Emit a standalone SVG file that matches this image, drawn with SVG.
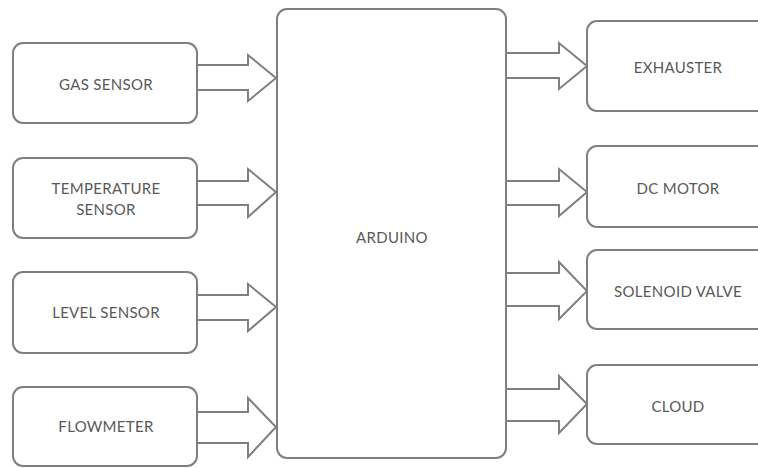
<svg xmlns="http://www.w3.org/2000/svg" width="758" height="468" viewBox="0 0 758 468">
<style>
.box{fill:#fff;stroke:#7f7f7f;stroke-width:2}
.arr{fill:#fff;stroke:#7f7f7f;stroke-width:2;stroke-linejoin:miter}
.t{font-family:Lato,"Open Sans","Liberation Sans",sans-serif;font-size:15px;letter-spacing:0.3px;fill:#595959;text-anchor:middle}
</style>
<rect width="758" height="468" fill="#fff"/>
<g id="connectors">
<path class="arr" d="M197,65 H248 V55 L276,78 L248,101 V90 H197"/>
<path class="arr" d="M197,181 H248 V169 L276,192 L248,217 V205 H197"/>
<path class="arr" d="M197,295 H248 V284 L276,307 L248,331 V320 H197"/>
<path class="arr" d="M197,412 H248 V398 L276,427 L248,457 V443 H197"/>
<path class="arr" d="M506,53 H559 V43 L587,66 L559,89 V78 H506"/>
<path class="arr" d="M506,181 H559 V169 L587,192 L559,216 V205 H506"/>
<path class="arr" d="M506,273 H559 V262 L587,291 L559,319 V306 H506"/>
<path class="arr" d="M506,389 H559 V376 L587,404 L559,433 V421 H506"/>
</g>
<g id="arduino"><rect class="box" x="277" y="9" width="229" height="449" rx="10"/><text class="t" x="392" y="243">ARDUINO</text></g>
<g id="gas"><rect class="box" x="13" y="43" width="184" height="80" rx="10"/><text class="t" x="106" y="90">GAS SENSOR</text></g>
<g id="temperature"><rect class="box" x="13" y="158" width="184" height="80" rx="10"/><text class="t" x="106" y="194">TEMPERATURE</text><text class="t" x="106" y="215">SENSOR</text></g>
<g id="level"><rect class="box" x="13" y="272" width="184" height="81" rx="10"/><text class="t" x="106" y="318">LEVEL SENSOR</text></g>
<g id="flowmeter"><rect class="box" x="13" y="387" width="184" height="79" rx="10"/><text class="t" x="106" y="432">FLOWMETER</text></g>
<g id="exhauster"><rect class="box" x="587" y="21" width="183" height="90" rx="10"/><text class="t" x="678" y="73">EXHAUSTER</text></g>
<g id="dcmotor"><rect class="box" x="587" y="146" width="183" height="81" rx="10"/><text class="t" x="678" y="194">DC MOTOR</text></g>
<g id="solenoid"><rect class="box" x="587" y="250" width="183" height="79" rx="10"/><text class="t" x="678" y="297">SOLENOID VALVE</text></g>
<g id="cloud"><rect class="box" x="587" y="365" width="183" height="79" rx="10"/><text class="t" x="678" y="412">CLOUD</text></g>
</svg>
